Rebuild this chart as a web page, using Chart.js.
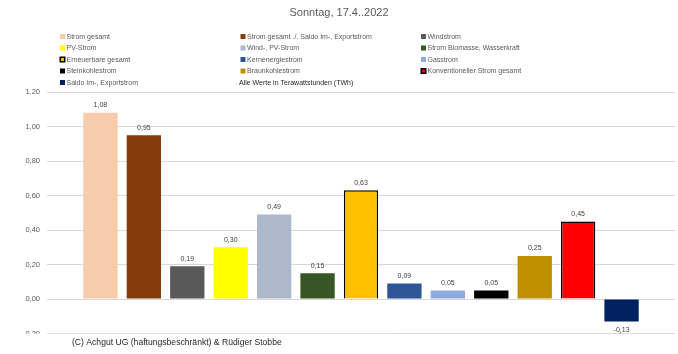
<!DOCTYPE html>
<html>
<head>
<meta charset="utf-8">
<script src="https://cdn.jsdelivr.net/npm/chart.js@4/dist/chart.umd.min.js"></script>
<style>
html,body{margin:0;padding:0;background:#fff;}
#c{display:block;}
</style>
</head>
<body>
<canvas id="c" width="678" height="354"></canvas>
<script>
const titleText = 'Sonntag, 17.4..2022';
const seriesNames = [
  'Strom gesamt',
  'Strom gesamt ./. Saldo Im-, Exportstrom',
  'Windstrom',
  'PV-Strom',
  'Wind-, PV-Strom',
  'Strom Biomasse, Wasserkraft',
  'Erneuerbare gesamt',
  'Kernenergiestrom',
  'Gasstrom',
  'Steinkohlestrom',
  'Braunkohlestrom',
  'Konventioneller Strom gesamt',
  'Saldo Im-, Exportstrom'
];
const seriesValues = [1.08, 0.95, 0.19, 0.30, 0.49, 0.15, 0.63, 0.09, 0.05, 0.05, 0.25, 0.45, -0.13];
const seriesColors = ['#F8CBAD', '#843C0C', '#595959', '#FFFF00', '#ADB9CA', '#375623', '#FFC000', '#2F5597', '#8FAADC', '#000000', '#BF9000', '#FF0000', '#002060'];
const outlined = [false, false, false, false, false, false, true, false, false, false, false, true, false];
const yTicks = [-0.2, 0, 0.2, 0.4, 0.6, 0.8, 1.0, 1.2];
const unitNote = 'Alle Werte in Terawattstunden (TWh)';
const footerText = '(C) Achgut UG (haftungsbeschränkt) & Rüdiger Stobbe';

const FONT = "'Liberation Sans', Arial, sans-serif";
const fmt = v => v.toFixed(2).replace('.', ',');

const datasets = seriesNames.map((name, i) => ({
  label: name,
  data: [seriesValues[i]],
  backgroundColor: seriesColors[i],
  borderColor: outlined[i] ? '#000000' : seriesColors[i],
  borderWidth: outlined[i] ? 1.5 : 0,
  categoryPercentage: 0.899,
  barPercentage: 0.79
}));

const decorPlugin = {
  id: 'decor',
  afterDatasetsDraw(chart) {
    const ctx = chart.ctx;
    ctx.save();
    ctx.font = '7px ' + FONT;
    ctx.fillStyle = '#404040';
    ctx.textAlign = 'center';
    chart.data.datasets.forEach((ds, i) => {
      const el = chart.getDatasetMeta(i).data[0];
      const v = ds.data[0];
      if (v >= 0) {
        ctx.textBaseline = 'bottom';
        ctx.fillText(fmt(v), el.x, el.y - 4);
      } else {
        ctx.textBaseline = 'top';
        ctx.fillText(fmt(v), el.x, el.y + 5);
      }
    });
    ctx.restore();
  },
  afterDraw(chart) {
    const ctx = chart.ctx;
    ctx.save();
    // title
    ctx.font = '11px ' + FONT;
    ctx.fillStyle = '#595959';
    ctx.textAlign = 'center';
    ctx.textBaseline = 'middle';
    ctx.fillText(titleText, 339, 13);
    // legend
    const cols = [60, 240.5, 421];
    const rows = [36.5, 48, 59.5, 71, 82.5];
    ctx.font = '7px ' + FONT;
    ctx.textAlign = 'left';
    chart.data.datasets.forEach((ds, i) => {
      const cx = cols[i % 3], cy = rows[Math.floor(i / 3)];
      if (outlined[i]) {
        ctx.fillStyle = '#000';
        ctx.fillRect(cx - 0.5, cy - 3, 6, 6);
        ctx.fillStyle = ds.backgroundColor;
        ctx.fillRect(cx + 1, cy - 1.5, 3, 3);
      } else {
        ctx.fillStyle = ds.backgroundColor;
        ctx.fillRect(cx, cy - 2.5, 5, 5);
      }
      ctx.fillStyle = '#595959';
      ctx.fillText(ds.label, cx + 6.5, cy + 0.5);
    });
    ctx.fillStyle = '#262626';
    ctx.fillText(unitNote, 239, rows[4] + 0.5);
    // footer box covering lower-left
    ctx.fillStyle = '#ffffff';
    ctx.fillRect(0, 333.8, 394, 21);
    ctx.fillStyle = '#262626';
    ctx.font = '8.6px ' + FONT;
    ctx.fillText(footerText, 72, 342.5);
    ctx.restore();
  }
};

new Chart(document.getElementById('c'), {
  type: 'bar',
  data: { labels: [''], datasets },
  options: {
    responsive: false,
    devicePixelRatio: 1,
    animation: false,
    layout: { padding: { top: 92, bottom: 20.5, left: 0, right: 3 } },
    plugins: { legend: { display: false }, title: { display: false }, tooltip: { enabled: false } },
    scales: {
      x: { display: false, grid: { display: false } },
      y: {
        min: yTicks[0],
        max: yTicks[yTicks.length - 1],
        afterFit(scale) { scale.width = 47; },
        afterBuildTicks(scale) { scale.ticks = yTicks.map(v => ({ value: v })); },
        ticks: {
          callback: v => fmt(v),
          font: { size: 7.5, family: FONT },
          color: '#595959',
          padding: 7
        },
        grid: { color: '#D9D9D9', lineWidth: 1, drawTicks: false },
        border: { display: false }
      }
    }
  },
  plugins: [decorPlugin]
});
</script>
</body>
</html>
